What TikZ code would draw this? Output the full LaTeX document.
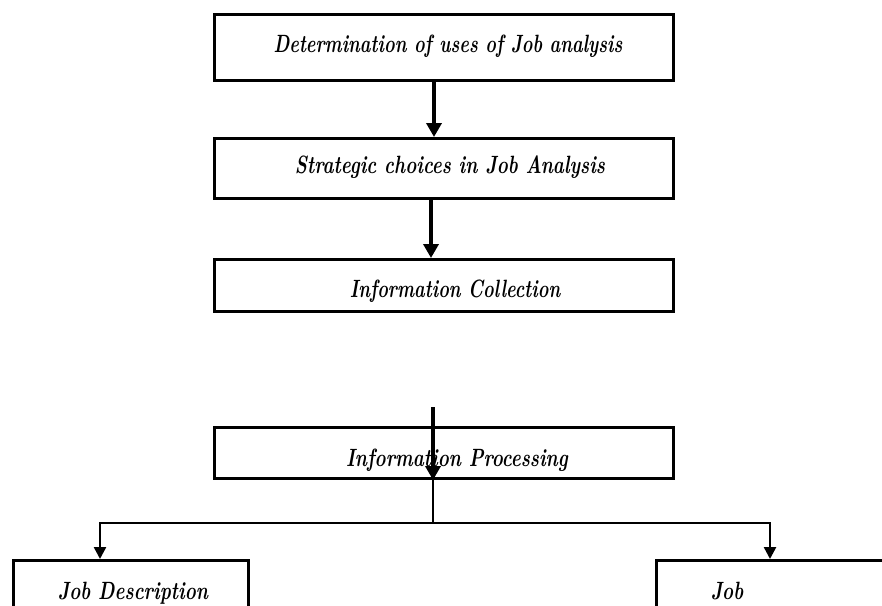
\documentclass[tikz,border=0pt]{standalone}
\usetikzlibrary{arrows.meta}
\begin{document}
\begin{tikzpicture}[x=1pt,y=-1pt,
  box/.style={draw=black,line width=3pt,rectangle,inner sep=0pt,anchor=north west},
  txt/.style={font=\fontsize{25}{28}\selectfont\bfseries\itshape,inner sep=0pt,xscale=0.75},
  thick arrow/.style={line width=4pt,-{Triangle[length=14pt,width=15pt]}},
  thin arrow/.style={line width=2.5pt,-{Triangle[length=12pt,width=12pt]}},
  thin line/.style={line width=2.5pt}]
\useasboundingbox (0,0) rectangle (882,605);
\clip (0,0) rectangle (882,605);
\fill[white] (0,0) rectangle (882,605);
% boxes
\node[box,minimum width=459pt,minimum height=66pt] (d) at (213,13) {};
\node[txt,xscale=0.965] (dt) at (448,46) {Determination of uses of Job analysis};
\node[box,minimum width=459pt,minimum height=60pt] (s) at (213,137) {};
\node[txt] (st) at (450,167) {Strategic choices in Job Analysis};
\node[box,minimum width=459pt,minimum height=52pt] (c) at (213,258) {};
\node[txt,xscale=0.965] (ct) at (455,291) {Information Collection};
\node[box,minimum width=459pt,minimum height=51pt] (p) at (213,426) {};
\node[txt] (pt) at (457,460) {Information Processing};
\node[box,minimum width=235pt,minimum height=80pt] (jd) at (12,559) {};
\node[txt] (jdt) at (133,593) {Job Description};
\node[box,minimum width=260pt,minimum height=80pt] (jb) at (655,559) {};
\node[txt] (jbt) at (727,591) {Job};
% connectors
\draw[thick arrow] (d.south -| 434,0) -- (s.north -| 434,0);
\draw[thick arrow] (s.south -| 431,0) -- (c.north -| 431,0);
\coordinate (ps) at (433,407);
\coordinate (jn) at (433,523);
\coordinate (jl) at (100,523);
\coordinate (jr) at (770,523);
\draw[thick arrow] (ps) -- (p.south -| ps);
\draw[thin line] (p.south -| jn) -- (jn);
\draw[thin arrow] (jn) -- (jl) -- (jd.north -| jl);
\draw[thin arrow] (jn) -- (jr) -- (jb.north -| jr);
\end{tikzpicture}
\end{document}
